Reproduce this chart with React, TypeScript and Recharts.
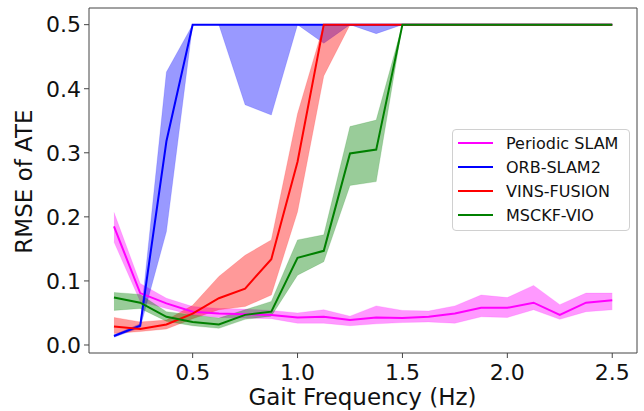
import React from 'react';
import { ComposedChart, Area, Line, XAxis, YAxis, Legend, Label, ReferenceLine } from 'recharts';

const freq = [0.125, 0.25, 0.375, 0.5, 0.625, 0.75, 0.875, 1.0, 1.125, 1.25, 1.375, 1.5, 1.625, 1.75, 1.875, 2.0, 2.125, 2.25, 2.375, 2.5];

const periodic = [0.185, 0.081, 0.065, 0.052, 0.049, 0.048, 0.047, 0.043, 0.044, 0.039, 0.043, 0.042, 0.044, 0.049, 0.058, 0.058, 0.066, 0.047, 0.066, 0.070];
const periodicLo = [0.161, 0.068, 0.057, 0.047, 0.043, 0.042, 0.041, 0.034, 0.034, 0.030, 0.033, 0.035, 0.036, 0.034, 0.044, 0.043, 0.055, 0.040, 0.052, 0.055];
const periodicHi = [0.207, 0.096, 0.073, 0.060, 0.057, 0.056, 0.054, 0.050, 0.055, 0.045, 0.061, 0.054, 0.053, 0.061, 0.078, 0.074, 0.093, 0.063, 0.081, 0.081];

const orb = [0.014, 0.030, 0.318, 0.5, 0.5, 0.5, 0.5, 0.5, 0.5, 0.5, 0.5, 0.5, 0.5, 0.5, 0.5, 0.5, 0.5, 0.5, 0.5, 0.5];
const orbLo = [0.012, 0.027, 0.177, 0.5, 0.5, 0.375, 0.359, 0.5, 0.471, 0.5, 0.486, 0.5, 0.5, 0.5, 0.5, 0.5, 0.5, 0.5, 0.5, 0.5];
const orbHi = [0.016, 0.033, 0.426, 0.5, 0.5, 0.5, 0.5, 0.5, 0.5, 0.5, 0.5, 0.5, 0.5, 0.5, 0.5, 0.5, 0.5, 0.5, 0.5, 0.5];

const vins = [0.029, 0.025, 0.032, 0.049, 0.073, 0.088, 0.134, 0.286, 0.5, 0.5, 0.5, 0.5, 0.5, 0.5, 0.5, 0.5, 0.5, 0.5, 0.5, 0.5];
const vinsLo = [0.018, 0.021, 0.025, 0.041, 0.055, 0.060, 0.078, 0.208, 0.420, 0.5, 0.5, 0.5, 0.5, 0.5, 0.5, 0.5, 0.5, 0.5, 0.5, 0.5];
const vinsHi = [0.043, 0.036, 0.039, 0.062, 0.107, 0.140, 0.164, 0.361, 0.5, 0.5, 0.5, 0.5, 0.5, 0.5, 0.5, 0.5, 0.5, 0.5, 0.5, 0.5];

const msckf = [0.074, 0.066, 0.044, 0.036, 0.032, 0.047, 0.052, 0.136, 0.147, 0.299, 0.305, 0.5, 0.5, 0.5, 0.5, 0.5, 0.5, 0.5, 0.5, 0.5];
const msckfLo = [0.054, 0.057, 0.037, 0.030, 0.026, 0.040, 0.045, 0.109, 0.130, 0.249, 0.255, 0.5, 0.5, 0.5, 0.5, 0.5, 0.5, 0.5, 0.5, 0.5];
const msckfHi = [0.082, 0.079, 0.052, 0.047, 0.042, 0.055, 0.068, 0.164, 0.172, 0.341, 0.351, 0.5, 0.5, 0.5, 0.5, 0.5, 0.5, 0.5, 0.5, 0.5];

const xTicks = [0.5, 1.0, 1.5, 2.0, 2.5];
const yTicks = [0, 0.1, 0.2, 0.3, 0.4, 0.5];
const xDomain = [0.006, 2.618];
const yDomain = [-0.0125, 0.526];

const series = [
  { key: 'periodic', name: 'Periodic SLAM', color: '#ff00ff' },
  { key: 'orb', name: 'ORB-SLAM2', color: '#0000ff' },
  { key: 'vins', name: 'VINS-FUSION', color: '#ff0000' },
  { key: 'msckf', name: 'MSCKF-VIO', color: '#008000' },
];

const data = freq.map((f, i) => ({
  f,
  periodic: periodic[i], periodicBand: [periodicLo[i], periodicHi[i]],
  orb: orb[i], orbBand: [orbLo[i], orbHi[i]],
  vins: vins[i], vinsBand: [vinsLo[i], vinsHi[i]],
  msckf: msckf[i], msckfBand: [msckfLo[i], msckfHi[i]],
}));

const font = '"DejaVu Sans", sans-serif';
const frame = '#444';

const LegendBox = () => (
  <div style={{
    border: '1px solid #d0d0d0', borderRadius: 4, background: 'rgba(255,255,255,0.8)',
    width: 176, padding: '1px 0 3px', fontFamily: font, fontSize: 16, color: '#111',
  }}>
    {series.map(s => (
      <div key={s.key} style={{ display: 'flex', alignItems: 'center', height: 24 }}>
        <div style={{ width: 35, height: 2, background: s.color, marginLeft: 5, marginRight: 13 }} />
        <span>{s.name}</span>
      </div>
    ))}
  </div>
);

export default function App() {
  return (
    <div style={{ position: 'absolute', left: 0, top: 0, background: '#fff' }}>
      <ComposedChart width={644} height={411} data={data} margin={{ top: 8, right: 7, left: 0, bottom: 0 }}>
        <XAxis
          dataKey="f" type="number" domain={xDomain} ticks={xTicks} allowDataOverflow
          height={58} tickSize={5} tickMargin={6} stroke={frame}
          tick={{ fill: '#111', fontSize: 22, fontFamily: font }}
          tickFormatter={(v: number) => v.toFixed(1)}
        >
          <Label content={() => (
            <text x={362.5} y={405} textAnchor="middle"
              style={{ fontFamily: font, fontSize: 23, fill: '#111' }}>Gait Frequency (Hz)</text>
          )} />
        </XAxis>
        <YAxis
          type="number" domain={yDomain} ticks={yTicks} allowDataOverflow
          width={89} tickSize={5} tickMargin={3} stroke={frame}
          tick={{ fill: '#111', fontSize: 22, fontFamily: font }}
          tickFormatter={(v: number) => v.toFixed(1)}
        >
          <Label content={() => (
            <text x={24} y={181.5} transform="rotate(-90 24 181.5)" textAnchor="middle" dominantBaseline="central"
              style={{ fontFamily: font, fontSize: 23, fill: '#111' }}>RMSE of ATE</text>
          )} />
        </YAxis>
        {series.map(s => (
          <Area key={s.key + 'Band'} type="linear" dataKey={s.key + 'Band'} fill={s.color} fillOpacity={0.4}
            stroke={s.color} strokeOpacity={0.15} strokeWidth={1} isAnimationActive={false} legendType="none" activeDot={false} />
        ))}
        {series.map(s => (
          <Line key={s.key} type="linear" dataKey={s.key} name={s.name} stroke={s.color} strokeWidth={2}
            dot={false} activeDot={false} isAnimationActive={false} />
        ))}
        <ReferenceLine y={yDomain[1]} stroke={frame} strokeWidth={1} />
        <ReferenceLine x={xDomain[1]} stroke={frame} strokeWidth={1} />
        <Legend layout="vertical" verticalAlign="middle" align="center" wrapperStyle={{ left: 452, top: 129, width: 'auto' }} content={() => <LegendBox />} />
      </ComposedChart>
    </div>
  );
}
